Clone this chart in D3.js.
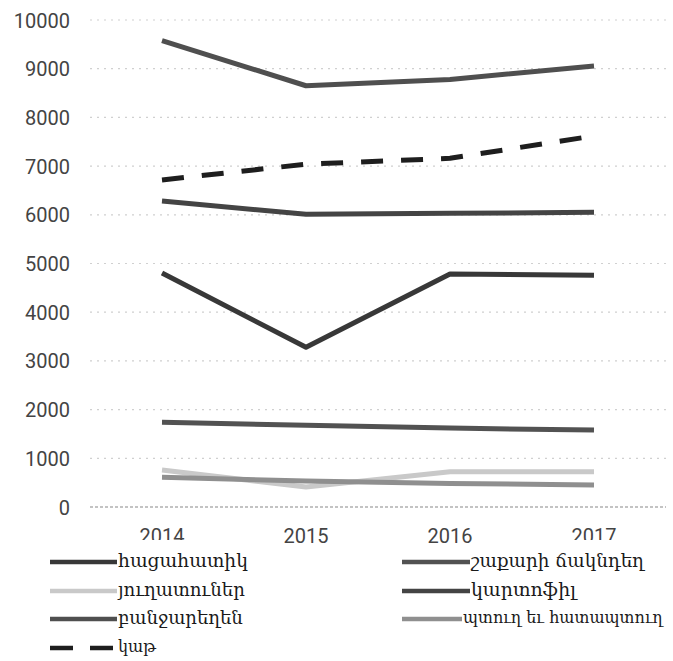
<!DOCTYPE html>
<html><head><meta charset="utf-8">
<script src="https://cdn.jsdelivr.net/npm/d3@7/dist/d3.min.js"></script>
<style>
html,body{margin:0;padding:0;background:#fff;}
svg{display:block;}
</style></head>
<body>
<svg id="chart" width="673" height="661"></svg>
<script>
// ---- data ----
const years = ["2014", "2015", "2016", "2017"];
const yTicks = [0, 1000, 2000, 3000, 4000, 5000, 6000, 7000, 8000, 9000, 10000];
const seriesNames = ["հացահատիկ", "շաքարի ճակնդեղ", "յուղատուներ", "կարտոֆիլ", "բանջարեղեն", "պտուղ եւ հատապտուղ", "կաթ"];
const hacahatik = [4805, 3280, 4785, 4760];
const shakari = [1740, 1680, 1620, 1580];
const yughatuner = [760, 410, 725, 725];
const kartofil = [6283, 6010, 6030, 6050];
const banjarexen = [9575, 8650, 8780, 9055];
const ptugh = [610, 535, 485, 452];
const kat = [6715, 7040, 7160, 7620];

const seriesValues = [hacahatik, shakari, yughatuner, kartofil, banjarexen, ptugh, kat];
const seriesColors = ["#383838", "#525252", "#c9c9c9", "#444444", "#4f4f4f", "#8f8f8f", "#1e1e1e"];
const seriesDash = [null, null, null, null, null, null, "22,18"];

const svg = d3.select("#chart");
const x = d3.scaleBand().domain(years).range([90, 666]).padding(0);
const y = d3.scaleLinear().domain([0, 10000]).range([507, 20]);
const cx = d => x(d) + x.bandwidth() / 2;

// gridlines
const grid = svg.append("g");
grid.selectAll("line").data(yTicks).join("line")
  .attr("x1", 90).attr("x2", 666)
  .attr("y1", d => y(d)).attr("y2", d => y(d))
  .attr("stroke", d => d === 0 ? "#b0b0b0" : "#d0d0d0")
  .attr("stroke-width", d => d === 0 ? 1.5 : 1.2)
  .attr("stroke-dasharray", d => d === 0 ? "3,2" : "2,5");

// y axis labels
const yAxis = d3.axisLeft(y).tickValues(yTicks).tickSize(0).tickPadding(0).tickFormat(d3.format("d"));
const ya = svg.append("g").attr("transform", "translate(70,0)").call(yAxis);
ya.select(".domain").remove();
ya.selectAll("text").attr("font-family", "Roboto, sans-serif").attr("font-size", 20)
  .attr("fill", "#444").attr("dy", "0.35em");

// x axis labels
const xAxis = d3.axisBottom(x).tickSize(0).tickPadding(0);
const xa = svg.append("g").attr("transform", "translate(0,529)").call(xAxis);
xa.select(".domain").remove();
xa.selectAll("text").attr("font-family", "Roboto, sans-serif").attr("font-size", 20)
  .attr("fill", "#444").attr("dy", "0.71em");

// lines
const line = d3.line().x((d, i) => cx(years[i])).y(d => y(d));
const lines = svg.append("g");
seriesValues.forEach((vals, i) => {
  lines.append("path").attr("d", line(vals))
    .attr("fill", "none")
    .attr("stroke", seriesColors[i])
    .attr("stroke-width", 5)
    .attr("stroke-linejoin", "round")
    .attr("stroke-dasharray", seriesDash[i]);
});

// legend (white backgrounds overlap the 2014 / 2017 labels)
const legend = svg.append("g");
legend.append("rect").attr("x", 45).attr("y", 540).attr("width", 210).attr("height", 121).attr("fill", "#fff");
legend.append("rect").attr("x", 490).attr("y", 540).attr("width", 183).attr("height", 14).attr("fill", "#fff");

const legendPos = [
  {x: 50, y: 562, w: 67, tw: 130}, {x: 402, y: 562, w: 68, tw: 173},
  {x: 50, y: 591, w: 67, tw: 127}, {x: 402, y: 591, w: 68, tw: 105},
  {x: 50, y: 619, w: 67, tw: 125}, {x: 402, y: 619, w: 60, tw: 200},
  {x: 50, y: 648, w: 67, tw: 38}
];
seriesNames.forEach((name, i) => {
  const p = legendPos[i];
  legend.append("line")
    .attr("x1", p.x).attr("x2", p.x + p.w)
    .attr("y1", p.y).attr("y2", p.y)
    .attr("stroke", seriesColors[i]).attr("stroke-width", 4.5)
    .attr("stroke-dasharray", i === 6 ? "23,17" : null);
  const t = legend.append("text")
    .attr("x", p.x + p.w + 1).attr("y", p.y)
    .attr("dy", "0.25em")
    .attr("font-family", "'DejaVu Serif', serif")
    .attr("font-size", 19)
    .attr("fill", "#1a1a1a")
    .text(name);
  const len = t.node().getComputedTextLength();
  if (len > p.tw) t.attr("font-size", Math.max(15, 19 * p.tw / len));
});
</script>
</body></html>
